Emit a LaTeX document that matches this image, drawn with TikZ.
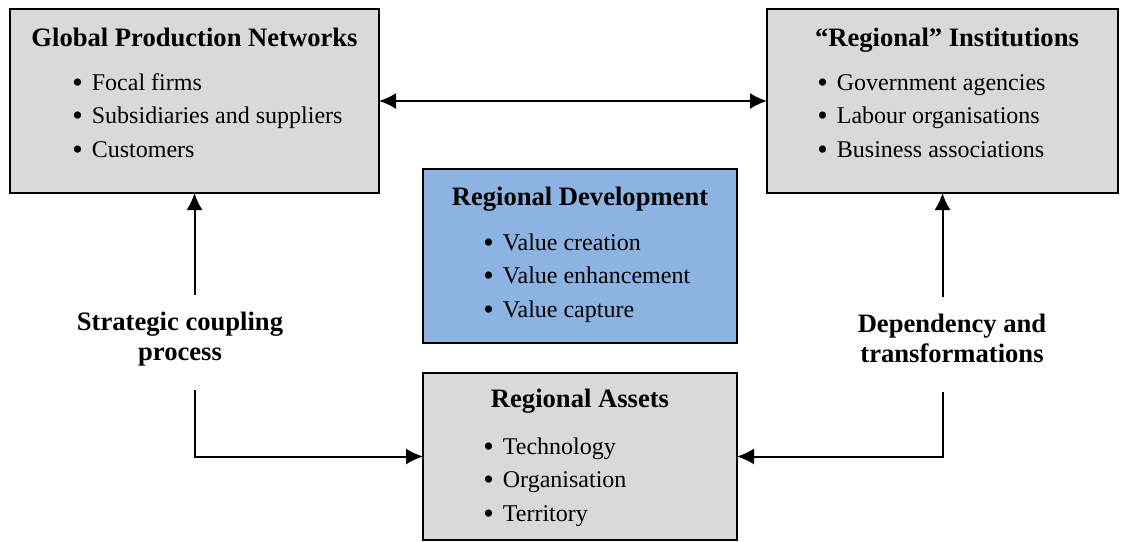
\documentclass[tikz,border=0pt]{standalone}
\usepackage{fontspec}
\setmainfont{Liberation Serif}
\usetikzlibrary{arrows.meta, positioning}
\definecolor{boxgrey}{HTML}{D9D9D9}
\definecolor{boxblue}{HTML}{8DB3E2}
\newcommand{\titlefont}{\fontsize{13.3}{15}\selectfont\bfseries}
\newcommand{\listfont}{\fontsize{12}{16.75}\selectfont}
\newcommand{\itm}{\raisebox{-1pt}{\fontsize{15}{15}\selectfont\textbullet}\hspace{4.5pt}}

\begin{document}
\begin{tikzpicture}[x=0.5pt, y=-0.5pt, >={Latex[length=8.5pt,width=8pt]},
    box/.style={draw, line width=1pt, inner sep=0pt, outer sep=0pt},
    greybox/.style={box, fill=boxgrey},
    bluebox/.style={box, fill=boxblue},
    heading/.style={anchor=base, inner sep=0pt, font=\titlefont},
    bullets/.style={anchor=base west, inner sep=0pt, font=\listfont},
    linklabel/.style={anchor=base, inner sep=0pt, font=\titlefont},
    arr/.style={->, line width=1pt}]
    \useasboundingbox (0,0) rectangle (1127,541);

    % Four boxes
    \node[greybox, minimum width=184.5pt, minimum height=92pt] (gpn) at (194.5,101) {};
    \node[greybox, minimum width=175.5pt, minimum height=92pt] (inst) at (942.5,101) {};
    \node[bluebox, minimum width=157pt, minimum height=87pt] (dev) at (580,256) {};
    \node[greybox, minimum width=157pt, minimum height=83.5pt] (assets) at (580,456.5) {};

    % Headings
    \node[heading] (gpnhead) at (194.5,46) {Global Production Networks};
    \node[heading] (insthead) at (947,46) {“Regional” Institutions};
    \node[heading] (devhead) at (580,205) {Regional Development};
    \node[heading] (assetshead) at (580,407) {Regional Assets};

    % Bullet lists
    \node[bullets] (gpnlist) at (72,90) {\begin{tabular}[t]{@{}l@{}}
        \itm Focal firms\\ \itm Subsidiaries and suppliers\\ \itm Customers\end{tabular}};
    \node[bullets] (instlist) at (817,90) {\begin{tabular}[t]{@{}l@{}}
        \itm Government agencies\\ \itm Labour organisations\\ \itm Business associations\end{tabular}};
    \node[bullets] (devlist) at (483,250) {\begin{tabular}[t]{@{}l@{}}
        \itm Value creation\\ \itm Value enhancement\\ \itm Value capture\end{tabular}};
    \node[bullets] (assetslist) at (483,454) {\begin{tabular}[t]{@{}l@{}}
        \itm Technology\\ \itm Organisation\\ \itm Territory\end{tabular}};

    % Labels on the side links
    \node[linklabel] (coupling) at (180,330) {\begin{tabular}[t]{@{}c@{}}
        Strategic coupling\\ process\end{tabular}};
    \node[linklabel] (depend) at (952,332) {\begin{tabular}[t]{@{}c@{}}
        Dependency and\\ transformations\end{tabular}};
    \coordinate (couplingtop) at ([yshift=7pt]coupling.north);
    \coordinate (couplingbot) at ([yshift=-10.5pt]coupling.south);
    \coordinate (dependtop) at ([yshift=7pt]depend.north);
    \coordinate (dependbot) at ([yshift=-10.5pt]depend.south);

    % Connectors
    \draw[arr, <->] (gpn.east) -- (inst.west);
    \draw[arr] (couplingtop -| gpn.south) -- (gpn.south);
    \draw[arr] (couplingbot -| gpn.south) |- (assets.west);
    \draw[arr] (dependtop -| inst.south) -- (inst.south);
    \draw[arr] (dependbot -| inst.south) |- (assets.east);
\end{tikzpicture}
\end{document}
